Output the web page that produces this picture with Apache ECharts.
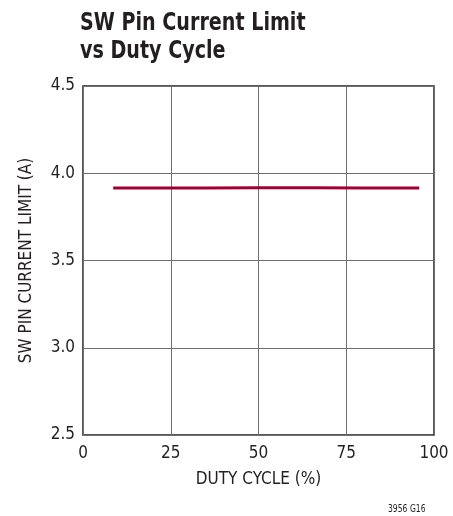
<!DOCTYPE html>
<html>
<head>
<meta charset="utf-8">
<script src="https://cdn.jsdelivr.net/npm/echarts@6/dist/echarts.min.js"></script>
<style>
html, body { margin: 0; padding: 0; background: #fff; }
#chart { width: 453px; height: 516px; }
</style>
</head>
<body>
<div id="chart"></div>
<script>
// 数据
var dutyCycle = [8.6, 20, 35, 50, 65, 80, 95.8];
var currentLimit = [3.915, 3.915, 3.916, 3.917, 3.917, 3.916, 3.915];
var xTicks = [0, 25, 50, 75, 100];
var yTicks = [2.5, 3.0, 3.5, 4.0, 4.5];

var FONT = '"DejaVu Sans Condensed", "Liberation Sans", sans-serif';

function drawChart(id) {
	var myChart = echarts.init(document.getElementById(id));
	var points = [];
	for (var i = 0; i < dutyCycle.length; i++) {
		points.push([dutyCycle[i], currentLimit[i]]);
	}
	var option = {
		animation: false,
		graphic: [{
			// 标题，横向压缩一点模仿窄体字
			type: 'text',
			x: 80,
			y: 9,
			scaleX: 0.85,
			style: {
				text: 'SW Pin Current Limit\nvs Duty Cycle',
				fontFamily: FONT,
				fontWeight: 'bold',
				fontSize: 25,
				lineHeight: 28,
				fill: '#231f20'
			}
		}, {
			type: 'text',
			x: 388,
			y: 504,
			scaleX: 0.85,
			style: { text: '3956 G16', fontFamily: FONT, fontSize: 10, fill: '#231f20' }
		}],
		grid: {
			left: 83,
			top: 86,
			width: 351,
			height: 349,
			show: true,
			borderColor: '#231f20',
			borderWidth: 1.5,
			backgroundColor: 'transparent'
		},
		xAxis: {
			type: 'value',
			min: xTicks[0],
			max: xTicks[xTicks.length - 1],
			interval: 25,
			name: 'DUTY CYCLE (%)',
			nameLocation: 'middle',
			nameGap: 36,
			nameTextStyle: { fontFamily: FONT, fontSize: 17, color: '#231f20' },
			axisLine: { show: false },
			axisTick: { show: false },
			axisLabel: { fontFamily: FONT, fontSize: 17, color: '#231f20', margin: 10 },
			splitLine: { lineStyle: { color: '#6d6e71', width: 1 } }
		},
		yAxis: {
			type: 'value',
			min: yTicks[0],
			max: yTicks[yTicks.length - 1],
			interval: 0.5,
			name: 'SW PIN CURRENT LIMIT (A)',
			nameLocation: 'middle',
			nameGap: 48,
			nameTextStyle: { fontFamily: FONT, fontSize: 17, color: '#231f20' },
			axisLine: { show: false },
			axisTick: { show: false },
			axisLabel: {
				fontFamily: FONT, fontSize: 17, color: '#231f20', margin: 8,
				formatter: function (v) { return v.toFixed(1); }
			},
			splitLine: { lineStyle: { color: '#6d6e71', width: 1 } }
		},
		series: [{
			type: 'line',
			data: points,
			showSymbol: false,
			smooth: false,
			lineStyle: { color: '#a1002f', width: 3 }
		}]
	};
	myChart.setOption(option);
}

drawChart('chart');
</script>
</body>
</html>
